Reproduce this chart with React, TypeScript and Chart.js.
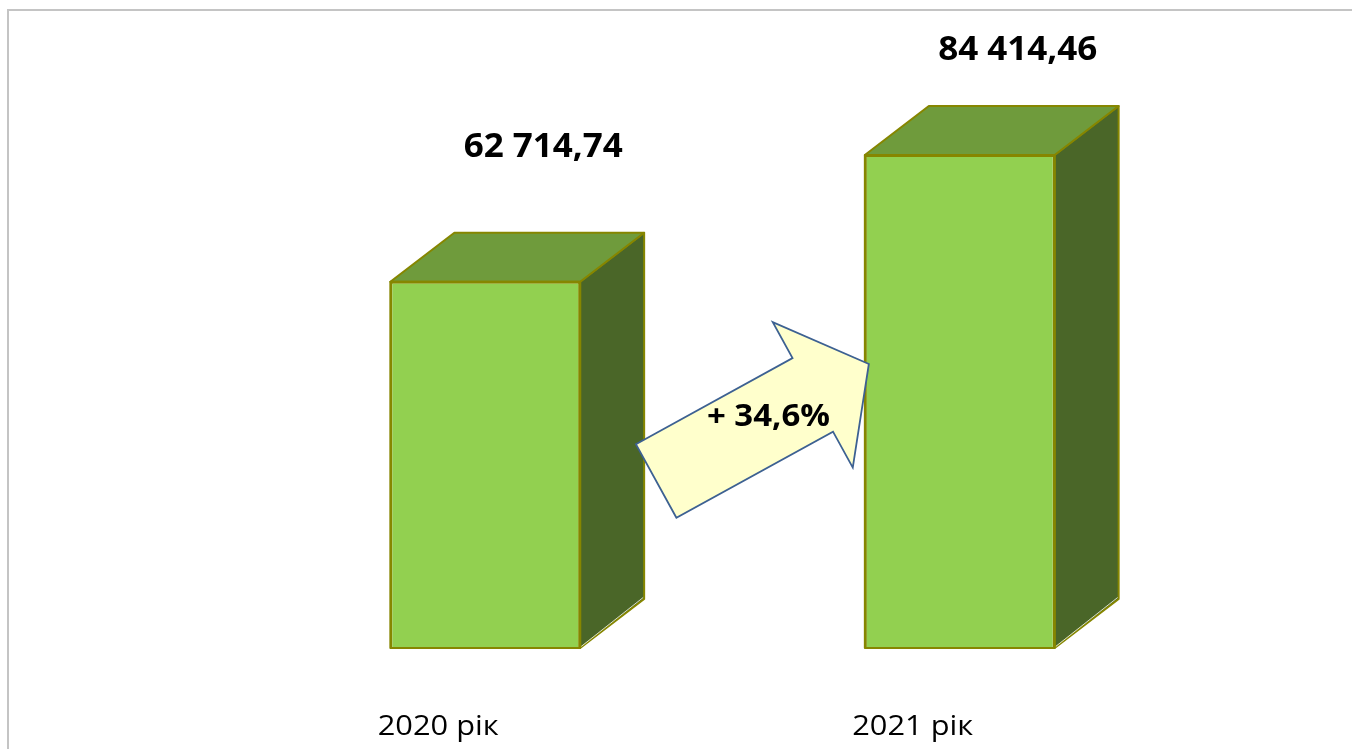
import React, { useEffect, useRef } from "react";
import { Chart, registerables } from "chart.js";

Chart.register(...registerables);

// ---- data ----
const categories = ["2020 рік", "2021 рік"];
const values = [62714.74, 84414.46];
const valueLabels = ["62 714,74", "84 414,46"];
const growthLabel = "+ 34,6%";
const yMin = 0;
const yMax = 100000;

// ---- style ----
const FRONT = "#92d050";
const TOP = "#6f9b3c";
const SIDE = "#4a6628";
const EDGE = "#868600";
const DEPTH_X = 64;
const DEPTH_Y = -49;
const FONT = "'Open Sans', 'Noto Sans', sans-serif";

function drawText(ctx: CanvasRenderingContext2D, text: string, x: number, y: number, font: string, scaleX: number) {
  ctx.save();
  ctx.font = font;
  ctx.fillStyle = "#000000";
  ctx.textAlign = "center";
  ctx.textBaseline = "alphabetic";
  ctx.translate(x, y);
  ctx.scale(scaleX, 1);
  ctx.fillText(text, 0, 0);
  ctx.restore();
}

const box3dPlugin = {
  id: "box3d",
  beforeDraw(chart: any) {
    const ctx = chart.ctx as CanvasRenderingContext2D;
    ctx.save();
    ctx.fillStyle = "#ffffff";
    ctx.fillRect(0, 0, chart.width, chart.height);
    ctx.strokeStyle = "#c4c4c4";
    ctx.lineWidth = 2;
    ctx.beginPath();
    ctx.moveTo(8, chart.height + 5);
    ctx.lineTo(8, 10);
    ctx.lineTo(chart.width + 5, 10);
    ctx.stroke();
    ctx.restore();
  },
  afterDatasetsDraw(chart: any) {
    const ctx = chart.ctx as CanvasRenderingContext2D;
    const meta = chart.getDatasetMeta(0);
    const area = chart.chartArea;
    ctx.save();
    ctx.lineJoin = "round";
    ctx.strokeStyle = EDGE;
    ctx.lineWidth = 2;
    meta.data.forEach((bar: any, i: number) => {
      const left = bar.x - bar.width / 2;
      const right = bar.x + bar.width / 2;
      const top = bar.y;
      const bottom = bar.base;
      // side face
      ctx.beginPath();
      ctx.moveTo(right, top);
      ctx.lineTo(right + DEPTH_X, top + DEPTH_Y);
      ctx.lineTo(right + DEPTH_X, bottom + DEPTH_Y);
      ctx.lineTo(right, bottom);
      ctx.closePath();
      ctx.fillStyle = SIDE;
      ctx.fill();
      ctx.stroke();
      // light highlight on lower edge
      ctx.save();
      ctx.strokeStyle = "rgba(230,235,220,0.9)";
      ctx.lineWidth = 1;
      ctx.beginPath();
      ctx.moveTo(right + 1, bottom - 1.5);
      ctx.lineTo(right + DEPTH_X - 1, bottom + DEPTH_Y - 1.5);
      ctx.stroke();
      ctx.restore();
      // top face
      ctx.beginPath();
      ctx.moveTo(left, top);
      ctx.lineTo(left + DEPTH_X, top + DEPTH_Y);
      ctx.lineTo(right + DEPTH_X, top + DEPTH_Y);
      ctx.lineTo(right, top);
      ctx.closePath();
      ctx.fillStyle = TOP;
      ctx.fill();
      ctx.stroke();
      // front outline again
      ctx.strokeRect(left, top, right - left, bottom - top);

      // value label
      const ly = Math.max(top - 125, area.top - 4);
      drawText(ctx, valueLabels[i], bar.x + 58, ly, `bold 34px ${FONT}`, 1.03);
      // category label
      drawText(ctx, categories[i], bar.x - 47, bottom + 87, `28px ${FONT}`, 1.1);
    });
    ctx.restore();
  },
  afterDraw(chart: any) {
    const ctx = chart.ctx as CanvasRenderingContext2D;
    const meta = chart.getDatasetMeta(0);
    const b1 = meta.data[0];
    const b2 = meta.data[1];
    if (!b1 || !b2) return;
    const tailX = b1.x + b1.width / 2 + DEPTH_X + 12;
    const tailY = b1.base - 167;
    const tipX = b2.x - b2.width / 2 + 4;
    const tipY = b1.base - 284;
    const dx = tipX - tailX;
    const dy = tipY - tailY;
    const len = Math.sqrt(dx * dx + dy * dy);
    const ang = Math.atan2(dy, dx);
    const shaftHalf = 42;
    const headHalf = 83;
    const headLen = 64;
    ctx.save();
    ctx.translate(tailX, tailY);
    ctx.rotate(ang);
    ctx.beginPath();
    ctx.moveTo(0, -shaftHalf);
    ctx.lineTo(len - headLen, -shaftHalf);
    ctx.lineTo(len - headLen, -headHalf);
    ctx.lineTo(len, 0);
    ctx.lineTo(len - headLen, headHalf);
    ctx.lineTo(len - headLen, shaftHalf);
    ctx.lineTo(0, shaftHalf);
    ctx.closePath();
    ctx.fillStyle = "#ffffcc";
    ctx.fill();
    ctx.strokeStyle = "#3d6192";
    ctx.lineWidth = 1.8;
    ctx.lineJoin = "miter";
    ctx.stroke();
    ctx.restore();
    drawText(ctx, growthLabel, (tailX + tipX) / 2 + 6, (tailY + tipY) / 2 + 3, `bold 30px ${FONT}`, 1.1);
  },
};

export default function App() {
  const canvasRef = useRef<HTMLCanvasElement | null>(null);

  useEffect(() => {
    if (!canvasRef.current) return;
    const chart = new Chart(canvasRef.current, {
      type: "bar",
      data: {
        labels: categories,
        datasets: [
          {
            data: values,
            backgroundColor: FRONT,
            borderColor: EDGE,
            borderWidth: 2,
            barPercentage: 0.4,
            categoryPercentage: 1,
          },
        ],
      },
      options: {
        animation: false,
        responsive: true,
        maintainAspectRatio: false,
        layout: { padding: { left: 248, right: 155, top: 64, bottom: 101 } },
        plugins: { legend: { display: false }, tooltip: { enabled: false } },
        scales: {
          x: { display: false, offset: true },
          y: { display: false, min: yMin, max: yMax },
        },
      },
      plugins: [box3dPlugin],
    });
    return () => chart.destroy();
  }, []);

  return (
    <div style={{ position: "fixed", left: 0, top: 0, width: 1352, height: 749, background: "#fff" }}>
      <canvas ref={canvasRef} />
    </div>
  );
}
